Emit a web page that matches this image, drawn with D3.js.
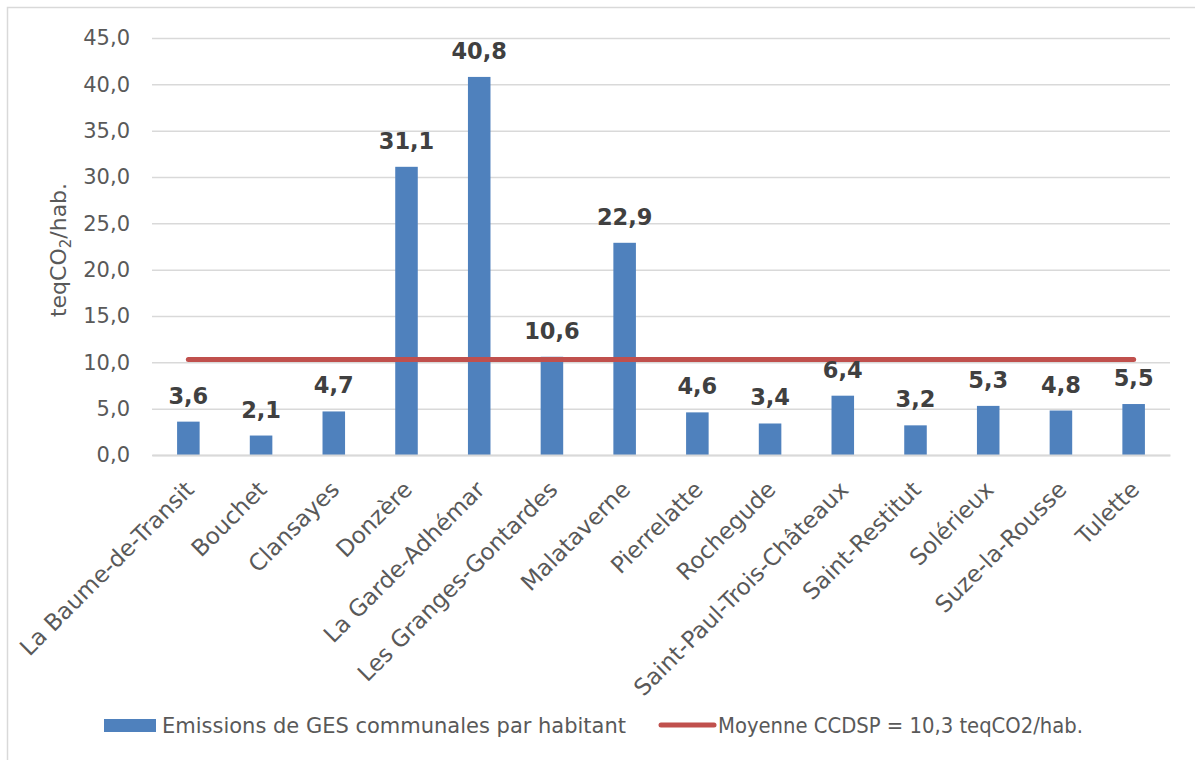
<!DOCTYPE html>
<html><head><meta charset="utf-8">
<script src="https://cdn.jsdelivr.net/npm/d3@7"></script>
<style>body{margin:0;background:#fff}svg{display:block}</style>
</head><body>
<svg id="c" width="1195" height="760"></svg>
<script>
const categories = ["La Baume-de-Transit","Bouchet","Clansayes","Donzère","La Garde-Adhémar","Les Granges-Gontardes","Malataverne","Pierrelatte","Rochegude","Saint-Paul-Trois-Châteaux","Saint-Restitut","Solérieux","Suze-la-Rousse","Tulette"];
const emissions = [3.6,2.1,4.7,31.1,40.8,10.6,22.9,4.6,3.4,6.4,3.2,5.3,4.8,5.5];
const moyenne = categories.map(() => 10.3);
const yTicks = [0,5,10,15,20,25,30,35,40,45];
const seriesNames = ["Emissions de GES communales par habitant","Moyenne CCDSP = 10,3 teqCO2/hab."];

(function(){
const svg = d3.select("#c");
const fmt = v => d3.format(".1f")(v).replace(".", ",");
const pL = 152, pR = 1170, pT = 38, pB = 455;

svg.append("rect").attr("x",7.5).attr("y",7.5).attr("width",1300).attr("height",1000)
  .attr("fill","none").attr("stroke","#D9D9D9").attr("stroke-width",1.5);

const x = d3.scaleBand().domain(categories).range([pL,pR]).paddingInner(0.69).paddingOuter(0.345);
const y = d3.scaleLinear().domain([0,45]).range([pB,pT]);

const yAxis = d3.axisLeft(y).tickValues(yTicks).tickFormat(fmt).tickSize(-(pR-pL)).tickPadding(22);
const gy = svg.append("g").attr("transform",`translate(${pL},0)`).call(yAxis);
gy.select(".domain").remove();
gy.selectAll(".tick line").attr("stroke","#D9D9D9").attr("stroke-width",1.5);
gy.selectAll(".tick text").attr("font-family","DejaVu Sans, sans-serif").attr("font-size",21).attr("fill","#595959");

svg.append("g").selectAll("rect").data(emissions).join("rect")
  .attr("x",(d,i)=>x(categories[i])).attr("width",x.bandwidth())
  .attr("y",d=>y(d)).attr("height",d=>y(0)-y(d)).attr("fill","#4F81BD");

const xAxis = d3.axisBottom(x).tickSize(0).tickPadding(0);
const gx = svg.append("g").attr("transform",`translate(0,${pB})`).call(xAxis);
gx.select(".domain").attr("stroke","#D9D9D9").attr("stroke-width",2);
gx.selectAll(".tick text")
  .attr("font-family","DejaVu Sans, sans-serif").attr("font-size",23).attr("fill","#595959")
  .attr("text-anchor","end").attr("dy",0)
  .attr("transform","translate(7,36) rotate(-45)");

const cx = c => x(c) + x.bandwidth()/2;
svg.append("path").datum(moyenne)
  .attr("d", d3.line().x((d,i)=>cx(categories[i])).y(d=>y(d)))
  .attr("stroke","#C0504D").attr("stroke-width",5).attr("stroke-linecap","round").attr("fill","none");

svg.append("g").selectAll("text").data(emissions).join("text")
  .attr("x",(d,i)=>cx(categories[i])).attr("y",d=>y(d)-18)
  .attr("text-anchor","middle").attr("font-family","DejaVu Sans, sans-serif")
  .attr("font-weight","bold").attr("font-size",22.5).attr("fill","#404040").text(fmt);

svg.append("text").attr("transform","translate(66,250) rotate(-90)").attr("text-anchor","middle")
  .attr("font-family","DejaVu Sans, sans-serif").attr("font-size",22).attr("fill","#595959")
  .call(t=>{t.append("tspan").text("teqCO");t.append("tspan").attr("font-size",15).attr("dy",5).text("2");t.append("tspan").attr("dy",-5).text("/hab.");});

const lg = svg.append("g").attr("font-family","DejaVu Sans Condensed, DejaVu Sans, sans-serif").attr("font-size",21).attr("fill","#595959");
lg.append("rect").attr("x",104).attr("y",719).attr("width",52).attr("height",13).attr("fill","#4F81BD");
lg.append("text").attr("x",162).attr("y",733).attr("textLength",464).attr("lengthAdjust","spacingAndGlyphs").text(seriesNames[0]);
lg.append("line").attr("x1",661).attr("x2",714).attr("y1",725).attr("y2",725).attr("stroke","#C0504D").attr("stroke-width",5).attr("stroke-linecap","round");
lg.append("text").attr("x",718).attr("y",733).attr("textLength",365).attr("lengthAdjust","spacingAndGlyphs").text(seriesNames[1]);
})();
</script>
</body></html>
